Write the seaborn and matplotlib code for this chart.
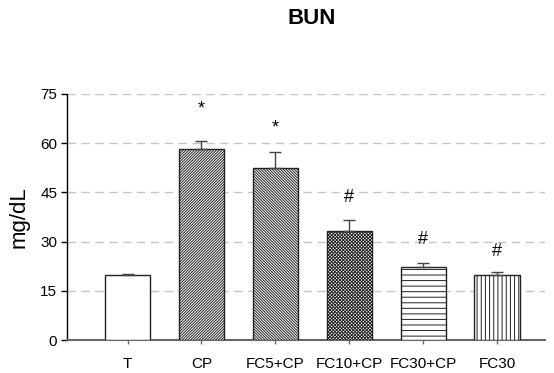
import matplotlib
matplotlib.use("Agg")
import matplotlib.pyplot as plt
import seaborn as sns
import pandas as pd

groups = ["T", "CP", "FC5+CP", "FC10+CP", "FC30+CP", "FC30"]
bun_mean = [19.8, 58.1, 52.3, 33.3, 22.2, 19.8]
bun_sem = [0.3, 2.7, 4.9, 3.4, 1.4, 0.8]
marks = ["", "*", "*", "#", "#", "#"]
mark_y = [0, 70.5, 64.5, 43.5, 30.5, 27.0]
hatches = ["", "/" * 12, "\\" * 12, "x" * 10, "---", "||||"]

sns.set_theme(style="white")
plt.rcParams["font.family"] = ["Liberation Sans", "DejaVu Sans"]
plt.rcParams["hatch.linewidth"] = 0.7
plt.rcParams["hatch.color"] = "black"
plt.rcParams["text.color"] = "black"
plt.rcParams["axes.labelcolor"] = "black"
plt.rcParams["xtick.color"] = "black"
plt.rcParams["ytick.color"] = "black"

df = pd.DataFrame({"group": groups, "bun": bun_mean})

fig = plt.figure(figsize=(5.54, 3.73), dpi=100)
ax = fig.add_axes([67 / 554, 1 - 340 / 373, (545 - 67) / 554, (340 - 94) / 373])

sns.barplot(data=df, x="group", y="bun", order=groups, color="white",
            width=0.61, edgecolor="#222222", linewidth=1.0, ax=ax, zorder=3)

for patch, h in zip(ax.patches, hatches):
    patch.set_hatch(h)
    patch.set_facecolor("white")

xs = list(range(len(groups)))
ax.errorbar(xs, bun_mean, yerr=[[0] * len(groups), bun_sem], fmt="none",
            ecolor="#444444", elinewidth=1.0, capsize=4, capthick=1.0, zorder=4)

for x, m, y in zip(xs, marks, mark_y):
    if m:
        ax.text(x, y, m, ha="center", va="center", fontsize=13, color="black")

ax.set_ylim(0, 75)
ax.set_xlim(-0.82, 5.65)
ax.set_yticks([0, 15, 30, 45, 60, 75])
ax.yaxis.grid(True, linestyle=(0, (6, 4)), color="#c4c4c4", linewidth=1.0, zorder=0)
ax.xaxis.grid(False)
ax.set_axisbelow(True)

for s in ["top", "right"]:
    ax.spines[s].set_visible(False)
ax.spines["left"].set_color("black")
ax.spines["left"].set_linewidth(1.0)
ax.spines["bottom"].set_color("#666666")
ax.spines["bottom"].set_linewidth(1.5)

ax.tick_params(axis="y", direction="out", length=4, width=1, color="black",
               labelcolor="black", labelsize=11, pad=3, left=True)
ax.tick_params(axis="x", direction="out", length=3, width=1, color="#666666",
               labelcolor="black", labelsize=11, pad=9, bottom=True)

ax.set_xlabel("")
ax.set_ylabel("mg/dL", fontsize=16, labelpad=8, color="black")

fig.text(312 / 554, 1 - 19 / 373, "BUN", ha="center", va="center",
         fontsize=16, fontweight="bold", color="black")

fig.savefig("out.png", dpi=100)
